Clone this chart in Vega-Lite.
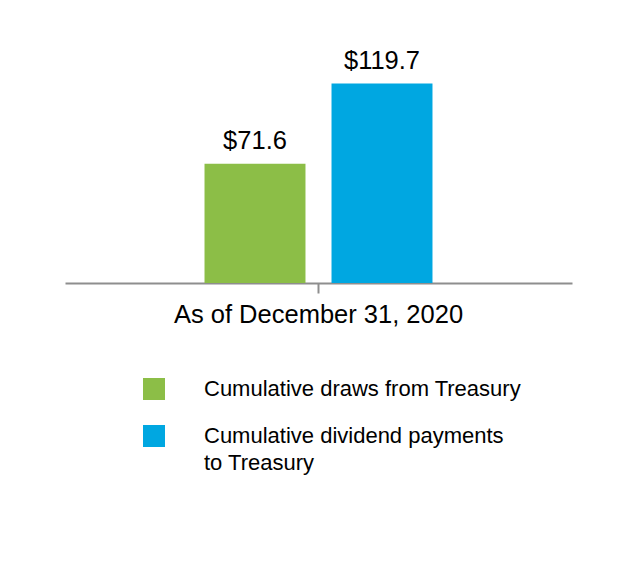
{
  "$schema": "https://vega.github.io/schema/vega-lite/v6.json",
  "width": 507,
  "height": 250,
  "autosize": "none",
  "padding": {"left": 65, "top": 33, "right": 64, "bottom": 281},
  "background": "#ffffff",
  "config": {
    "view": {"stroke": null},
    "font": "Liberation Sans"
  },
  "data": {
    "values": [
      {"period": "As of December 31, 2020", "series": "Cumulative draws from Treasury", "value": 71.6},
      {"period": "As of December 31, 2020", "series": "Cumulative dividend payments to Treasury", "value": 119.7}
    ]
  },
  "encoding": {
    "x": {
      "field": "period",
      "type": "nominal",
      "scale": {"paddingInner": 0, "paddingOuter": 0.612},
      "axis": {
        "title": null,
        "labelAngle": 0,
        "labelFontSize": 25.5,
        "labelColor": "#000000",
        "labelPadding": 9,
        "labelLimit": 0,
        "domainColor": "#8e8e8e",
        "domainWidth": 2,
        "tickColor": "#8e8e8e",
        "tickWidth": 2,
        "tickSize": 10
      }
    },
    "xOffset": {
      "field": "series",
      "type": "nominal",
      "sort": ["Cumulative draws from Treasury", "Cumulative dividend payments to Treasury"],
      "scale": {"paddingInner": 0.205, "paddingOuter": 0}
    },
    "y": {
      "field": "value",
      "type": "quantitative",
      "scale": {"domain": [0, 150]},
      "axis": null
    }
  },
  "layer": [
    {
      "mark": {"type": "bar"},
      "encoding": {
        "color": {
          "field": "series",
          "type": "nominal",
          "sort": ["Cumulative draws from Treasury", "Cumulative dividend payments to Treasury"],
          "scale": {"range": ["#8cbe47", "#00a7e1"]},
          "legend": {
            "orient": "none",
            "legendX": 78,
            "legendY": 345,
            "title": null,
            "padding": 0,
            "symbolType": "square",
            "symbolSize": 484,
            "symbolStrokeWidth": 0,
            "labelFontSize": 22,
            "labelColor": "#000000",
            "labelOffset": 39,
            "labelLimit": 0,
            "rowPadding": 25,
            "labelExpr": "datum.label == 'Cumulative dividend payments to Treasury' ? ['Cumulative dividend payments', 'to Treasury'] : datum.label",
            "encode": {
              "labels": {"update": {"lineHeight": {"value": 27}}}
            }
          }
        }
      }
    },
    {
      "mark": {"type": "text", "baseline": "alphabetic", "dy": -15, "fontSize": 25.5, "color": "#000000"},
      "encoding": {
        "text": {"field": "value", "type": "quantitative", "format": "$.1f"}
      }
    }
  ]
}
